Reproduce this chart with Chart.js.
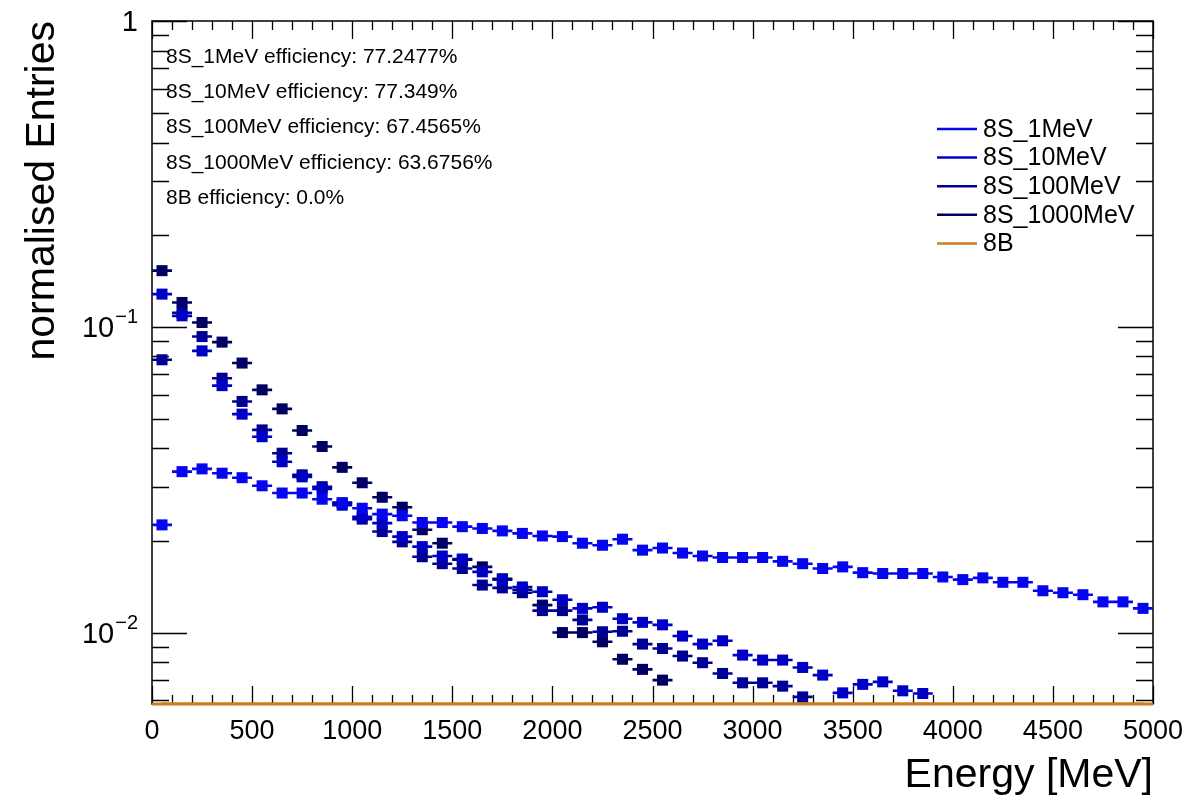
<!DOCTYPE html>
<html>
<head>
<meta charset="utf-8">
<script src="https://cdn.jsdelivr.net/npm/chart.js@4.4.1/dist/chart.umd.min.js"></script>
<style>
  html, body { margin: 0; padding: 0; background: #fff; }
  #wrap { width: 1201px; height: 806px; }
</style>
</head>
<body>
<div id="wrap"><canvas id="energyChart" width="1201" height="806"></canvas></div>
<script>
// bin centres, 100 MeV wide bins
const binCenters = [50, 150, 250, 350, 450, 550, 650, 750, 850, 950,
  1050, 1150, 1250, 1350, 1450, 1550, 1650, 1750, 1850, 1950,
  2050, 2150, 2250, 2350, 2450, 2550, 2650, 2750, 2850, 2950,
  3050, 3150, 3250, 3350, 3450, 3550, 3650, 3750, 3850, 3950,
  4050, 4150, 4250, 4350, 4450, 4550, 4650, 4750, 4850, 4950];
const binHalfWidth = 50;

const seriesNames = ["8S_1MeV", "8S_10MeV", "8S_100MeV", "8S_1000MeV", "8B"];
const seriesColors = ["#0505ee", "#0000c4", "#000094", "#000062", "#cc7c1c"];

const s1MeV = [0.0225, 0.0336, 0.0343, 0.0332, 0.0321, 0.0302, 0.0286, 0.0286, 0.0273, 0.0266,
  0.0255, 0.0244, 0.0241, 0.0229, 0.0229, 0.0222, 0.0219, 0.0215, 0.0211, 0.0207,
  0.0206, 0.0196, 0.0193, 0.0202, 0.0186, 0.0189, 0.0182, 0.0178, 0.0176, 0.0176,
  0.0176, 0.0171, 0.0168, 0.0162, 0.0164, 0.0157, 0.0156, 0.0156, 0.0156, 0.0152,
  0.0149, 0.0151, 0.0146, 0.0146, 0.0137, 0.0135, 0.0133, 0.0126, 0.0126, 0.0120];
const s10MeV = [0.1279, 0.1086, 0.0834, 0.0642, 0.0518, 0.0437, 0.0362, 0.0323, 0.0295, 0.0261,
  0.0239, 0.0228, 0.0206, 0.0191, 0.0178, 0.0174, 0.0158, 0.0149, 0.0141, 0.0136,
  0.0128, 0.0120, 0.0121, 0.0111, 0.0108, 0.0106, 0.00974, 0.00917, 0.00940, 0.00844,
  0.00813, 0.00813, 0.00769, 0.00726, 0.00635, 0.00677, 0.00690, 0.00645, 0.00632, null,
  null, null, null, null, null, null, null, null, null, null];
const s100MeV = [0.0780, 0.1111, 0.0929, 0.0679, 0.0570, 0.0460, 0.0386, 0.0328, 0.0300, 0.0265,
  0.0235, 0.0214, 0.0198, 0.0177, 0.0168, 0.0162, 0.0143, 0.0140, 0.0135, 0.0118,
  0.0118, 0.0110, 0.01006, 0.0101, 0.00917, 0.00887, 0.00838, 0.00797, 0.00735, 0.00685,
  0.00685, 0.00668, 0.00616, null, null, null, null, null, null, null,
  null, null, null, null, null, null, null, null, null, null];
const s1000MeV = [0.1526, 0.1201, 0.1033, 0.0891, 0.0761, 0.0622, 0.0539, 0.0458, 0.0406, 0.0347,
  0.0309, 0.0277, 0.0257, 0.0217, 0.0196, 0.0173, 0.0164, 0.0150, 0.0138, 0.0123,
  0.0100, 0.0100, 0.00933, 0.00818, 0.00758, 0.00699, null, null, null, null,
  null, null, null, null, null, null, null, null, null, null,
  null, null, null, null, null, null, null, null, null, null];
const s8B = [0, 0, 0, 0, 0, 0, 0, 0, 0, 0,
  0, 0, 0, 0, 0, 0, 0, 0, 0, 0,
  0, 0, 0, 0, 0, 0, 0, 0, 0, 0,
  0, 0, 0, 0, 0, 0, 0, 0, 0, 0,
  0, 0, 0, 0, 0, 0, 0, 0, 0, 0];

const effLabels = ["8S_1MeV efficiency: 77.2477%", "8S_10MeV efficiency: 77.349%",
  "8S_100MeV efficiency: 67.4565%", "8S_1000MeV efficiency: 63.6756%", "8B efficiency: 0.0%"];

const yTickValues = [1, 0.1, 0.01];
const yTickText = [["1", ""], ["10", "\u22121"], ["10", "\u22122"]];

const X_MIN = 0, X_MAX = 5000;
const Y_MIN = 0.00584, Y_MAX = 1;
const FONT = '"Liberation Sans", Arial, Helvetica, sans-serif';

const allSeries = [s1MeV, s10MeV, s100MeV, s1000MeV, s8B];

const datasets = allSeries.map(function (vals, k) {
  const is8B = k === 4;
  return {
    label: seriesNames[k],
    data: binCenters.map(function (x, i) {
      // empty bins of 8B sit on the lower frame edge like in ROOT
      const v = vals[i];
      return { x: x, y: is8B ? Math.max(v, Y_MIN) : v };
    }),
    borderColor: seriesColors[k],
    backgroundColor: seriesColors[k],
    pointStyle: "rect",
    pointRadius: is8B ? 0 : 7.8,
    pointHoverRadius: is8B ? 0 : 7.8,
    borderWidth: is8B ? 3 : 0,
    showLine: is8B,
    barWidth: is8B ? 3 : 2.6,
    order: is8B ? -1 : k,
  };
});

// frame and inward ticks like a ROOT canvas
const framePlugin = {
  id: "rootFrame",
  beforeDatasetsDraw(chart) {
    const ctx = chart.ctx;
    const a = chart.chartArea;
    const xs = chart.scales.x, ys = chart.scales.y;
    ctx.save();
    ctx.strokeStyle = "#000";
    ctx.lineWidth = 1.5;
    ctx.strokeRect(a.left, a.top, a.right - a.left, a.bottom - a.top);
    ctx.lineWidth = 1.3;
    ctx.beginPath();
    for (let v = X_MIN; v <= X_MAX; v += 100) {
      const px = Math.round(xs.getPixelForValue(v)) + 0.5;
      const len = v % 500 === 0 ? 18 : 9;
      ctx.moveTo(px, a.bottom); ctx.lineTo(px, a.bottom - len);
      ctx.moveTo(px, a.top); ctx.lineTo(px, a.top + len);
    }
    for (let d = -3; d <= 0; d++) {
      for (let m = 1; m <= 9; m++) {
        const v = m * Math.pow(10, d);
        if (v < Y_MIN || v > Y_MAX * 1.0001) continue;
        const py = Math.round(ys.getPixelForValue(v)) + 0.5;
        const len = m === 1 ? 35 : 17;
        ctx.moveTo(a.left, py); ctx.lineTo(a.left + len, py);
        ctx.moveTo(a.right, py); ctx.lineTo(a.right - len, py);
      }
    }
    ctx.stroke();

    // horizontal error bars spanning each bin
    chart.data.datasets.forEach(function (ds) {
      ctx.strokeStyle = ds.borderColor;
      ctx.lineWidth = ds.barWidth;
      ctx.beginPath();
      ds.data.forEach(function (p) {
        if (p.y === null || p.y < Y_MIN) return;
        const py = ys.getPixelForValue(p.y);
        ctx.moveTo(xs.getPixelForValue(p.x - binHalfWidth), py);
        ctx.lineTo(xs.getPixelForValue(p.x + binHalfWidth), py);
      });
      ctx.stroke();
    });
    ctx.restore();
  },
  afterDraw(chart) {
    const ctx = chart.ctx;
    const a = chart.chartArea;
    const ys = chart.scales.y;
    ctx.save();
    ctx.fillStyle = "#000";
    ctx.textBaseline = "middle";
    ctx.textAlign = "right";
    // y tick labels with superscript exponents
    yTickValues.forEach(function (v, i) {
      const py = ys.getPixelForValue(v);
      let x = a.left - 14;
      const base = yTickText[i][0], exp = yTickText[i][1];
      if (exp) {
        ctx.font = "20px " + FONT;
        ctx.fillText(exp, x, py - 9);
        x -= ctx.measureText(exp).width + 1;
      }
      ctx.font = "29px " + FONT;
      ctx.fillText(base, x, py + 2);
    });

    // efficiency text block
    ctx.textAlign = "left";
    ctx.font = "21px " + FONT;
    effLabels.forEach(function (t, i) {
      ctx.fillText(t, a.left + 14, 57 + i * 35.3);
    });

    // legend
    ctx.font = "25px " + FONT;
    chart.data.datasets.forEach(function (ds, i) {
      const y = 129 + i * 28.6;
      ctx.strokeStyle = ds.borderColor;
      ctx.lineWidth = 2.5;
      ctx.beginPath();
      ctx.moveTo(937, y); ctx.lineTo(977, y);
      ctx.stroke();
      ctx.fillText(ds.label, 983, y + 1);
    });
    ctx.restore();
  },
};

new Chart(document.getElementById("energyChart"), {
  type: "scatter",
  data: { datasets: datasets },
  options: {
    responsive: false,
    animation: false,
    devicePixelRatio: 1,
    layout: { padding: { left: 0, top: 21, right: 48, bottom: 0 } },
    plugins: {
      legend: { display: false },
      tooltip: { enabled: false },
    },
    scales: {
      x: {
        type: "linear",
        min: X_MIN,
        max: X_MAX,
        grid: { display: false, drawTicks: false },
        border: { display: false },
        ticks: {
          stepSize: 500,
          color: "#000",
          padding: 11,
          maxRotation: 0,
          font: { family: FONT, size: 27 },
          callback: function (value) { return String(value); },
        },
        title: {
          display: true,
          text: "Energy [MeV]",
          align: "end",
          color: "#000",
          font: { family: FONT, size: 41 },
          padding: { top: 0, bottom: 6 },
        },
        afterFit: function (scale) { scale.height = 102; },
      },
      y: {
        type: "logarithmic",
        min: Y_MIN,
        max: Y_MAX,
        grid: { display: false, drawTicks: false },
        border: { display: false },
        ticks: { display: false },
        title: {
          display: true,
          text: "normalised Entries",
          align: "end",
          color: "#000",
          font: { family: FONT, size: 41 },
          padding: { top: 18, bottom: 0 },
        },
        afterFit: function (scale) { scale.width = 152; },
      },
    },
  },
  plugins: [framePlugin],
});
</script>
</body>
</html>
